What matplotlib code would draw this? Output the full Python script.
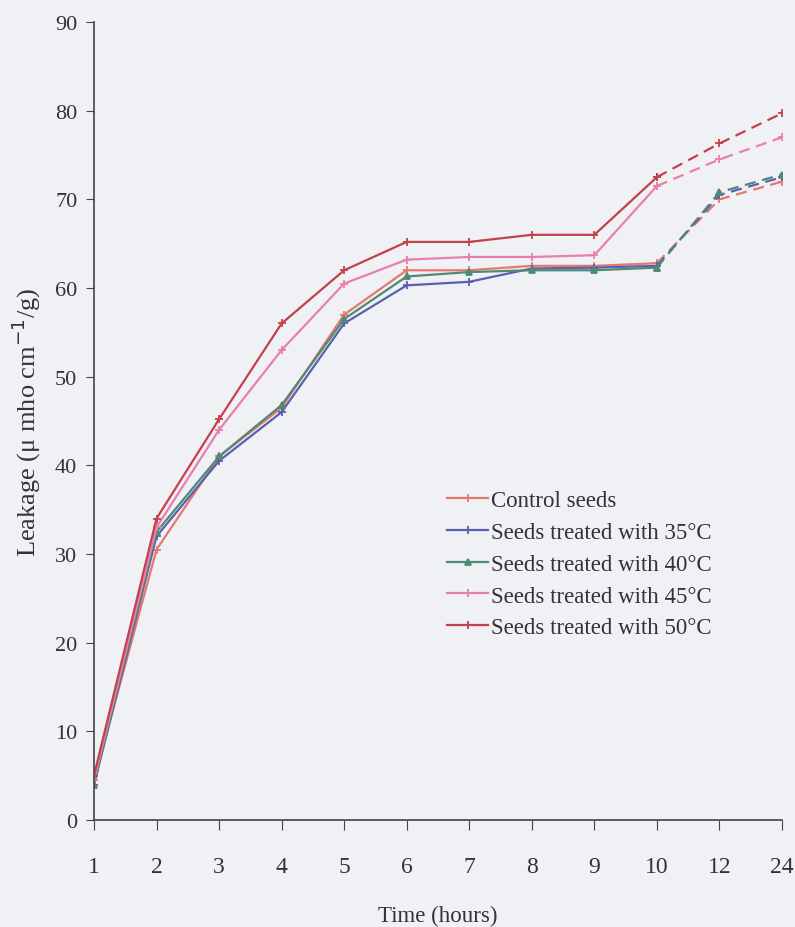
import matplotlib
matplotlib.use("Agg")
import matplotlib.pyplot as plt

time_labels = ["1", "2", "3", "4", "5", "6", "7", "8", "9", "10", "12", "24"]
control = [4.5, 30.5, 41.0, 46.5, 57.0, 62.0, 62.0, 62.5, 62.5, 62.8, 70.0, 72.0]
t35 = [4.0, 32.0, 40.5, 46.0, 56.0, 60.3, 60.7, 62.2, 62.3, 62.5, 70.5, 72.5]
t40 = [4.0, 32.5, 41.0, 46.8, 56.5, 61.3, 61.8, 62.0, 62.0, 62.3, 70.8, 72.8]
t45 = [4.5, 33.0, 44.0, 53.0, 60.5, 63.2, 63.5, 63.5, 63.7, 71.5, 74.5, 77.0]
t50 = [5.0, 34.0, 45.2, 56.0, 62.0, 65.2, 65.2, 66.0, 66.0, 72.5, 76.3, 79.7]

series = [
    ("Control seeds", control, "#e8776f", "+"),
    ("Seeds treated with 35°C", t35, "#5b5fb0", "+"),
    ("Seeds treated with 40°C", t40, "#4f8a73", "^"),
    ("Seeds treated with 45°C", t45, "#ea7fab", "+"),
    ("Seeds treated with 50°C", t50, "#c2414b", "+"),
]

bg = "#eff1f5"
fig = plt.figure(figsize=(7.95, 9.28), dpi=100, facecolor=bg)
ax = fig.add_axes([0.1182, 0.1153, 0.8654, 0.8599], facecolor=bg)

x = list(range(len(time_labels)))
for name, vals, col, mk in series:
    ms = 5 if mk == "^" else 6
    ax.plot(x[:10], vals[:10], color=col, lw=1.6, marker=mk, ms=ms, mew=1.3, label=name)
    ax.plot(x[9:], vals[9:], color=col, lw=1.6, ls=(0, (5, 3)), marker=mk, ms=ms, mew=1.3)

ax.set_xlim(0, 11.0)
ax.set_ylim(0, 90)
ax.set_xticks(x)
ax.set_xticklabels(time_labels, fontsize=17, family="Liberation Serif", color="#333333")
ax.set_yticks(range(0, 91, 10))
ax.set_yticklabels([str(v) for v in range(0, 91, 10)], fontsize=16, family="Liberation Serif", color="#333333")
ax.tick_params(axis="x", direction="out", length=7, pad=19, color="#444444")
ax.tick_params(axis="y", direction="out", length=6, pad=6, color="#444444")
for s in ["top", "right"]:
    ax.spines[s].set_visible(False)
for s in ["left", "bottom"]:
    ax.spines[s].set_color("#444444")
    ax.spines[s].set_linewidth(1.2)

ax.set_xlabel("Time (hours)", fontsize=16.5, family="Liberation Serif", color="#333333", labelpad=20)
ax.set_ylabel("Leakage (μ mho cm$^{-1}$/g)", fontsize=19, family="Liberation Serif", color="#333333", labelpad=9)

leg = ax.legend(loc="upper left", bbox_to_anchor=(0.500, 0.425), frameon=False,
                prop={"family": "Liberation Serif", "size": 16.5}, handlelength=1.8,
                handletextpad=0.12, labelspacing=0.47, borderaxespad=0)
for t in leg.get_texts():
    t.set_color("#333333")

fig.savefig("out.png", dpi=100, facecolor=bg)
